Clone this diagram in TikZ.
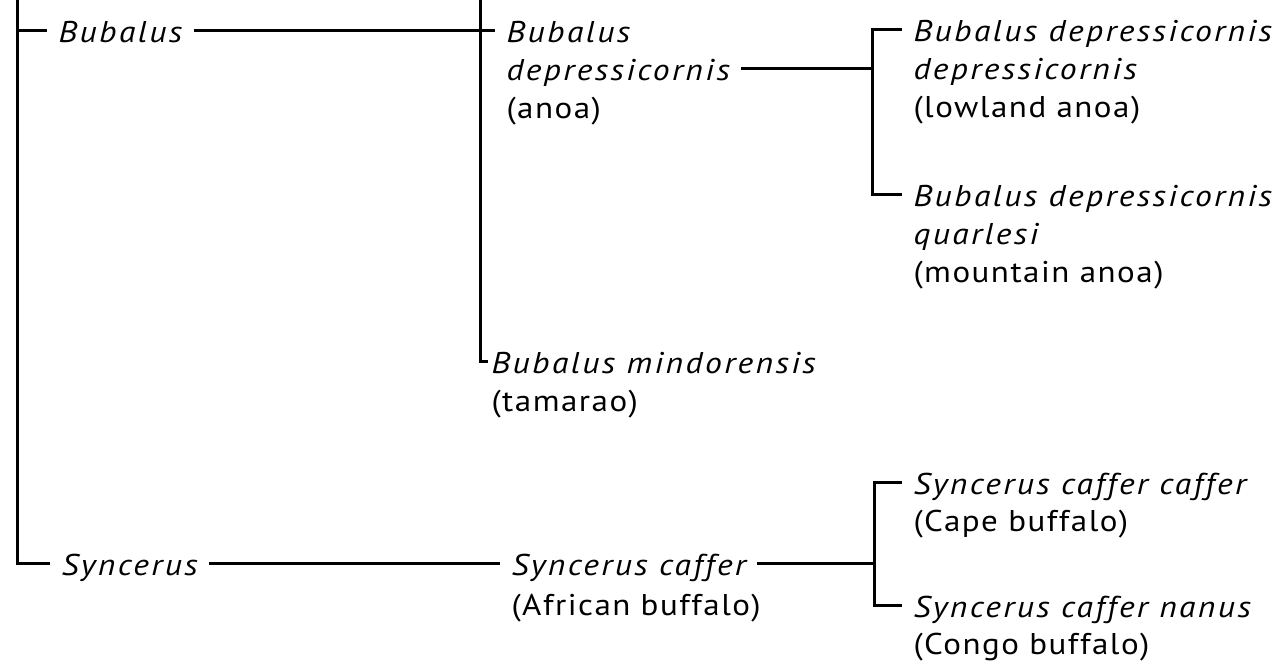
\documentclass[tikz,border=0pt]{standalone}
\usepackage{fontspec}
\setmainfont{PT Sans}[
    ItalicFeatures={FakeStretch=1.12, LetterSpace=8},
    UprightFeatures={FakeStretch=1.1, LetterSpace=5}]
\newcommand{\labelsize}{\fontsize{30}{36}\selectfont}
\tikzset{
    taxon/.style={anchor=base west, inner xsep=10pt, inner ysep=0pt, text height=23pt, text depth=0pt, font=\labelsize\itshape},
    vernacular/.style={taxon, font=\labelsize\upshape}
}

\begin{document}
\begin{tikzpicture}[x=1pt, y=-1pt, line width=3pt]

    \useasboundingbox (0,0) rectangle (1278,665);

    % Genera
    \node[taxon] at (47,42) (Bu) {Bubalus} ;
    \node[taxon] at (50,575) (Sy) {Syncerus} ;

    % Species
    \node[taxon] at (495,42) (Bd1) {Bubalus} ;
    \node[taxon] at (495,80) (Bd2) {depressicornis} ;
    \node[vernacular] at (495,118) (Bd3) {(anoa)} ;
    \node[taxon, inner xsep=2pt] at (488,373) (Bm1) {Bubalus mindorensis} ;
    \node[vernacular, inner xsep=2pt] at (488,411) (Bm2) {(tamarao)} ;
    \node[taxon] at (500,575) (Sc1) {Syncerus caffer} ;
    \node[vernacular] at (500,615) (Sc2) {(African buffalo)} ;

    % Subspecies
    \node[taxon] at (902,41) (Dd1) {Bubalus depressicornis} ;
    \node[taxon] at (902,79) (Dd2) {depressicornis} ;
    \node[vernacular] at (902,117) (Dd3) {(lowland anoa)} ;
    \node[taxon] at (902,206) (Dq1) {Bubalus depressicornis} ;
    \node[taxon] at (902,244) (Dq2) {quarlesi} ;
    \node[vernacular] at (902,282) (Dq3) {(mountain anoa)} ;
    \node[taxon] at (902,494) (Cc1) {Syncerus caffer caffer} ;
    \node[vernacular] at (902,531) (Cc2) {(Cape buffalo)} ;
    \node[taxon] at (902,617) (Cn1) {Syncerus caffer nanus} ;
    \node[vernacular] at (902,654) (Cn2) {(Congo buffalo)} ;

    % Trunks
    \coordinate (T0) at (17,-5);
    \coordinate (T1) at (480,-5);
    \coordinate (B1) at (872,100);
    \coordinate (B2) at (874,560);

    \draw (T0) |- (Sy.west);
    \draw (T0 |- Bu.west) -- (Bu.west);
    \draw (Bu.east) -- (Bd1.west);
    \draw (T1) |- (Bm1.west);
    \draw (Sy.east) -- (Sc1.west);

    % Brackets
    \draw (Dd1.west) -| (B1) |- (Dq1.west);
    \draw (Bd2.east) -- (B1 |- Bd2.east);
    \draw (Cc1.west) -| (B2) |- (Cn1.west);
    \draw (Sc1.east) -- (B2 |- Sc1.east);

\end{tikzpicture}
\end{document}
